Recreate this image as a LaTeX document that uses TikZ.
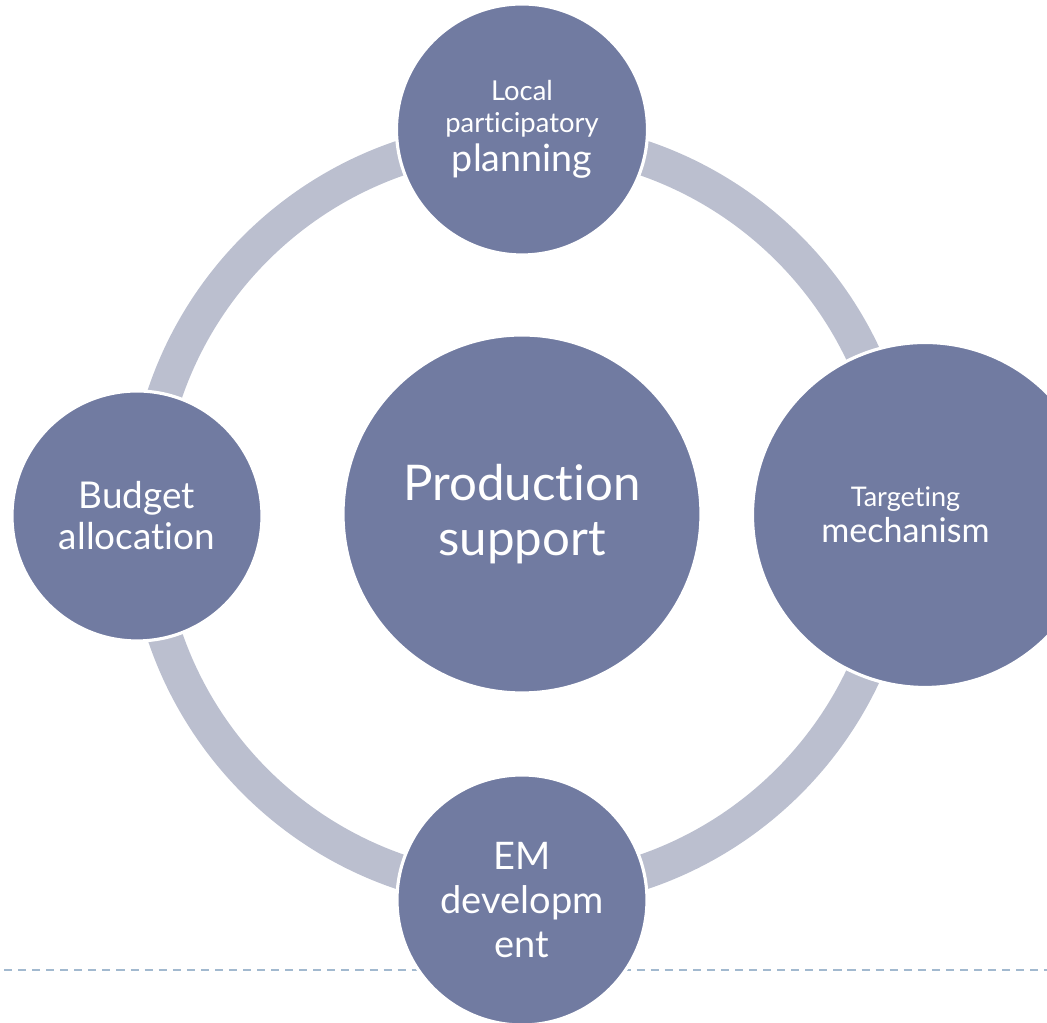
\documentclass[tikz,border=0pt]{standalone}
\usepackage{fontspec}
\setmainfont{Lato}[Ligatures=NoCommon]
\definecolor{bubblefill}{HTML}{717BA1}
\definecolor{ringgray}{HTML}{BBBFCF}
\definecolor{dashblue}{HTML}{A2B9CF}
\tikzset{
  bubble/.style={circle, fill=bubblefill, draw=white, line width=0.9pt,
    text=white, inner sep=0pt, align=center},
  ringline/.style={draw=ringgray, line width=0.35cm},
  baseline dash/.style={draw=dashblue, line width=0.6pt, dash pattern=on 2.3pt off 1.7pt}
}
\newcommand{\sz}[2]{\fontsize{#1}{#2}\selectfont}
\begin{document}
\begin{tikzpicture}
    \useasboundingbox (-5.22,5.15) rectangle (5.25,-5.08);

    % Grundlinie
    \coordinate (dl) at (-5.18,-4.55);
    \coordinate (dr) at (5.25,-4.55);
    \draw[baseline dash] (dl) -- (dr);

    % Ring
    \coordinate (hub) at (0,0);
    \draw[ringline] (hub) circle (3.77);

    % Mitte
    \node[bubble, minimum size=3.58cm, font=\sz{14}{15.6}] at (0,0.01) (core)
      {Production\\support};

    % Kreise am Ring
    \node[bubble, minimum size=2.51cm, font=\sz{7.8}{9.1}] at (0,3.855) (plan)
      {Local\\participatory\\[0.9pt]\sz{10.7}{9.1}planning};
    \node[bubble, minimum size=3.45cm,
      label={[text=white, align=center, xshift=-0.195cm, font=\sz{7.7}{10.2}]center:Targeting\\\sz{9.7}{10.2}mechanism}]
      at (4.03,0) (target) {};
    \node[bubble, minimum size=2.5cm, font=\sz{10.8}{12.5}] at (0,-3.85) (em)
      {EM\\developm\\ent};
    \node[bubble, minimum size=2.5cm, font=\sz{10.5}{11.7}] at (-3.85,-0.01) (budget)
      {Budget\\allocation};

\end{tikzpicture}
\end{document}
